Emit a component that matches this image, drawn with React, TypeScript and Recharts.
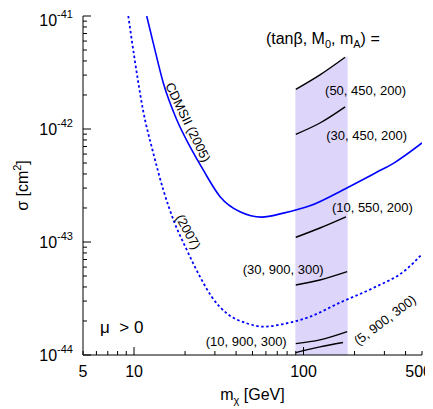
import React from 'react';
import { ComposedChart, Line, Area, XAxis, YAxis, ReferenceDot } from 'recharts';

// CDMSII (2005) limit (solid)
const cdms2005X = [11.88, 13.0, 14.9, 17.9, 21.4, 25.6, 32.2, 42.2, 56.7, 76.0, 109, 180, 270, 339, 500];
const cdms2005Y = [1e-41, 5.73e-42, 2.54e-42, 1.2e-42, 6.97e-43, 4.34e-43, 2.52e-43, 1.85e-43, 1.66e-43, 1.8e-43, 2.09e-43, 3.01e-43, 4.14e-43, 4.97e-43, 7.52e-43];

// CDMSII (2007) projected limit (dotted)
const cdms2007X = [9.25, 10.1, 11.3, 13.0, 14.9, 17.4, 20.5, 24.5, 28.7, 35.2, 46.2, 57.9, 76.0, 109, 164, 258, 406, 500];
const cdms2007Y = [1e-41, 4.08e-42, 1.47e-42, 6.1e-43, 2.88e-43, 1.46e-43, 8.49e-44, 4.93e-44, 3.28e-44, 2.34e-44, 1.91e-44, 1.78e-44, 1.88e-44, 2.18e-44, 2.91e-44, 3.92e-44, 5.75e-44, 7.83e-44];

// model curves (tanβ, M0, mA)
const curveAX = [90, 125, 176];
const curveAY = [2.24e-42, 3.01e-42, 4.31e-42];
const curveBX = [90, 125, 176];
const curveBY = [8.98e-43, 1.13e-42, 1.57e-42];
const curveCX = [90, 125, 178];
const curveCY = [1.1e-43, 1.33e-43, 1.67e-43];
const curveDX = [90, 125, 181];
const curveDY = [4.16e-44, 4.61e-44, 5.46e-44];
const curveEX = [90, 125, 181];
const curveEY = [1.26e-44, 1.36e-44, 1.61e-44];
const curveFX = [90, 125, 171];
const curveFY = [1.05e-44, 1.18e-44, 1.29e-44];

// shaded band
const bandX = [89.5, 125, 182];
const bandTop = [2.2e-42, 3.01e-42, 4.4e-42];

// axes
const xDomain = [5, 500];
const yDomain = [1e-44, 1e-41];
const xTicks = [5, 6, 7, 8, 9, 10, 20, 30, 40, 50, 60, 70, 80, 90, 100, 200, 300, 400, 500];
const xTickLabels = [5, 10, 100, 500];
const xMajorTicks = [10, 100];
const yDecades = [-44, -43, -42];
const yMantissas = [1, 2, 3, 4, 5, 6, 7, 8, 9];
const yTicks = [...yDecades.flatMap((e) => yMantissas.map((m) => m * Math.pow(10, e))), 1e-41];

// annotations
const annotations = [
  { key: 'a', x: 134, y: 2.0e-42, text: '(50, 450, 200)', size: 13, angle: 0, anchor: 'start' },
  { key: 'b', x: 136, y: 8.0e-43, text: '(30, 450, 200)', size: 13, angle: 0, anchor: 'start' },
  { key: 'c', x: 147, y: 1.84e-43, text: '(10, 550, 200)', size: 13, angle: 0, anchor: 'start' },
  { key: 'd', x: 43.8, y: 5.21e-44, text: '(30, 900, 300)', size: 13, angle: 0, anchor: 'start' },
  { key: 'e', x: 26.5, y: 1.2e-44, text: '(10, 900, 300)', size: 13, angle: 0, anchor: 'start' },
  { key: 'f', x: 302, y: 2.04e-44, text: '(5, 900, 300)', size: 13, angle: -37, anchor: 'middle' },
  { key: 'g', x: 20.8, y: 1.15e-42, text: 'CDMSII (2005)', size: 13, angle: 64, anchor: 'middle' },
  { key: 'h', x: 20.9, y: 1.23e-43, text: '(2007)', size: 13, angle: 61, anchor: 'middle' },
  { key: 'i', x: 6.3, y: 1.57e-44, text: 'μ  > 0', size: 17, angle: 0, anchor: 'start' },
];
const headerPos = { x: 130, y: 5.65e-42 };

const FONT = 'Liberation Sans, Arial, Helvetica, sans-serif';
const BLUE = '#0000ff';
const BAND = '#ddd5fa';

const toRows = (xs: number[], ys: number[]) => xs.map((x, i) => ({ x, y: ys[i] }));

const isMajorY = (v: number) => Math.abs(Math.log10(v) - Math.round(Math.log10(v))) < 1e-6;

const XTickBottom = (props: any) => {
  const { x, y, payload, index } = props;
  const v = payload.value;
  const len = xMajorTicks.includes(v) ? 8 : 4;
  const last = index === xTicks.length - 1;
  return (
    <g>
      <line x1={x} x2={x} y1={y} y2={y - len} stroke="#000" strokeWidth={1} />
      {xTickLabels.includes(v) && (
        <text
          x={last ? x + 10 : x}
          y={y + 22}
          textAnchor={last ? 'end' : 'middle'}
          fontSize={16}
          fontFamily={FONT}
          fill="#000"
        >
          {v}
        </text>
      )}
    </g>
  );
};

const XTickTop = (props: any) => {
  const { x, y, payload } = props;
  const len = xMajorTicks.includes(payload.value) ? 8 : 4;
  return <line x1={x} x2={x} y1={y} y2={y + len} stroke="#000" strokeWidth={1} />;
};

const YTickLeft = (props: any) => {
  const { x, y, payload, index } = props;
  const v = payload.value;
  const major = isMajorY(v);
  const len = major ? 8 : 4;
  const top = index === yTicks.length - 1;
  return (
    <g>
      <line x1={x} x2={x + len} y1={y} y2={y} stroke="#000" strokeWidth={1} />
      {major && (
        <text x={x - 10} y={y + (top ? 10 : 6)} textAnchor="end" fontSize={16} fontFamily={FONT} fill="#000">
          10
          <tspan dy={-8} fontSize={11}>
            {String(Math.round(Math.log10(v)))}
          </tspan>
        </text>
      )}
    </g>
  );
};

const YTickRight = (props: any) => {
  const { x, y, payload } = props;
  const len = isMajorY(payload.value) ? 8 : 4;
  return <line x1={x} x2={x - len} y1={y} y2={y} stroke="#000" strokeWidth={1} />;
};

const XLabel = (props: any) => {
  const vb = props.viewBox;
  return (
    <text x={vb.x + vb.width / 2} y={vb.y + 45} textAnchor="middle" fontSize={16} fontFamily={FONT} fill="#000">
      m
      <tspan dy={4} fontSize={11}>χ</tspan>
      <tspan dy={-4}> [GeV]</tspan>
    </text>
  );
};

const YLabel = (props: any) => {
  const vb = props.viewBox;
  const cx = vb.x + 20;
  const cy = vb.y + vb.height / 2;
  return (
    <text
      x={cx}
      y={cy}
      transform={`rotate(-90 ${cx} ${cy})`}
      textAnchor="middle"
      fontSize={16}
      fontFamily={FONT}
      fill="#000"
    >
      σ [cm
      <tspan dy={-7} fontSize={11}>2</tspan>
      <tspan dy={7}>]</tspan>
    </text>
  );
};

const makeTextShape = (a: any) => (p: any) => {
  const { cx, cy } = p;
  return (
    <text
      x={cx}
      y={cy}
      transform={a.angle ? `rotate(${a.angle} ${cx} ${cy})` : undefined}
      textAnchor={a.anchor}
      dominantBaseline={a.angle ? 'central' : 'auto'}
      fontSize={a.size}
      fontFamily={FONT}
      fill="#000"
      style={{ whiteSpace: 'pre' }}
    >
      {a.text}
    </text>
  );
};

const headerShape = (p: any) => (
  <text x={p.cx} y={p.cy} textAnchor="middle" fontSize={16} fontFamily={FONT} fill="#000">
    (tanβ, M
    <tspan dy={4} fontSize={11}>0</tspan>
    <tspan dy={-4}>, m</tspan>
    <tspan dy={4} fontSize={11}>A</tspan>
    <tspan dy={-4}>) =</tspan>
  </text>
);

export default function App() {
  const blackCurves = [
    toRows(curveAX, curveAY),
    toRows(curveBX, curveBY),
    toRows(curveCX, curveCY),
    toRows(curveDX, curveDY),
    toRows(curveEX, curveEY),
    toRows(curveFX, curveFY),
  ];
  const band = toRows(bandX, bandTop);
  return (
    <ComposedChart width={425} height={401} margin={{ top: 8, right: 11, bottom: 0, left: 0 }}>
      <XAxis
        xAxisId="b"
        dataKey="x"
        type="number"
        scale="log"
        domain={xDomain}
        allowDataOverflow
        ticks={xTicks}
        interval={0}
        tickSize={0}
        tickMargin={0}
        tickLine={false}
        tick={<XTickBottom />}
        axisLine={{ stroke: '#000', strokeWidth: 1 }}
        height={54}
        label={<XLabel />}
      />
      <XAxis
        xAxisId="t"
        orientation="top"
        dataKey="x"
        type="number"
        scale="log"
        domain={xDomain}
        allowDataOverflow
        ticks={xTicks}
        interval={0}
        tickSize={0}
        tickMargin={0}
        tickLine={false}
        tick={<XTickTop />}
        axisLine={{ stroke: '#000', strokeWidth: 1 }}
        height={0}
      />
      <YAxis
        yAxisId="l"
        type="number"
        scale="log"
        domain={yDomain}
        allowDataOverflow
        ticks={yTicks}
        interval={0}
        tickSize={0}
        tickMargin={0}
        tickLine={false}
        tick={<YTickLeft />}
        axisLine={{ stroke: '#000', strokeWidth: 1 }}
        width={75}
        label={<YLabel />}
      />
      <YAxis
        yAxisId="r"
        orientation="right"
        type="number"
        scale="log"
        domain={yDomain}
        allowDataOverflow
        ticks={yTicks}
        interval={0}
        tickSize={0}
        tickMargin={0}
        tickLine={false}
        tick={<YTickRight />}
        axisLine={{ stroke: '#000', strokeWidth: 1 }}
        width={0}
      />
      <Area
        xAxisId="b"
        yAxisId="l"
        data={band}
        dataKey="y"
        type="monotone"
        baseValue="dataMin"
        stroke="none"
        fill={BAND}
        fillOpacity={1}
        isAnimationActive={false}
      />
      <Line
        xAxisId="b"
        yAxisId="l"
        data={toRows(cdms2005X, cdms2005Y)}
        dataKey="y"
        type="monotone"
        stroke={BLUE}
        strokeWidth={1.6}
        dot={false}
        isAnimationActive={false}
      />
      <Line
        xAxisId="b"
        yAxisId="l"
        data={toRows(cdms2007X, cdms2007Y)}
        dataKey="y"
        type="monotone"
        stroke={BLUE}
        strokeWidth={1.8}
        strokeDasharray="2.5 2.5"
        dot={false}
        isAnimationActive={false}
      />
      {blackCurves.map((d, i) => (
        <Line
          key={i}
          xAxisId="b"
          yAxisId="l"
          data={d}
          dataKey="y"
          type="monotone"
          stroke="#000"
          strokeWidth={1.4}
          dot={false}
          isAnimationActive={false}
        />
      ))}
      {annotations.map((a) => (
        <ReferenceDot
          key={a.key}
          xAxisId="b"
          yAxisId="l"
          x={a.x}
          y={a.y}
          r={0}
          ifOverflow="visible"
          shape={makeTextShape(a)}
        />
      ))}
      <ReferenceDot
        xAxisId="b"
        yAxisId="l"
        x={headerPos.x}
        y={headerPos.y}
        r={0}
        ifOverflow="visible"
        shape={headerShape}
      />
    </ComposedChart>
  );
}
